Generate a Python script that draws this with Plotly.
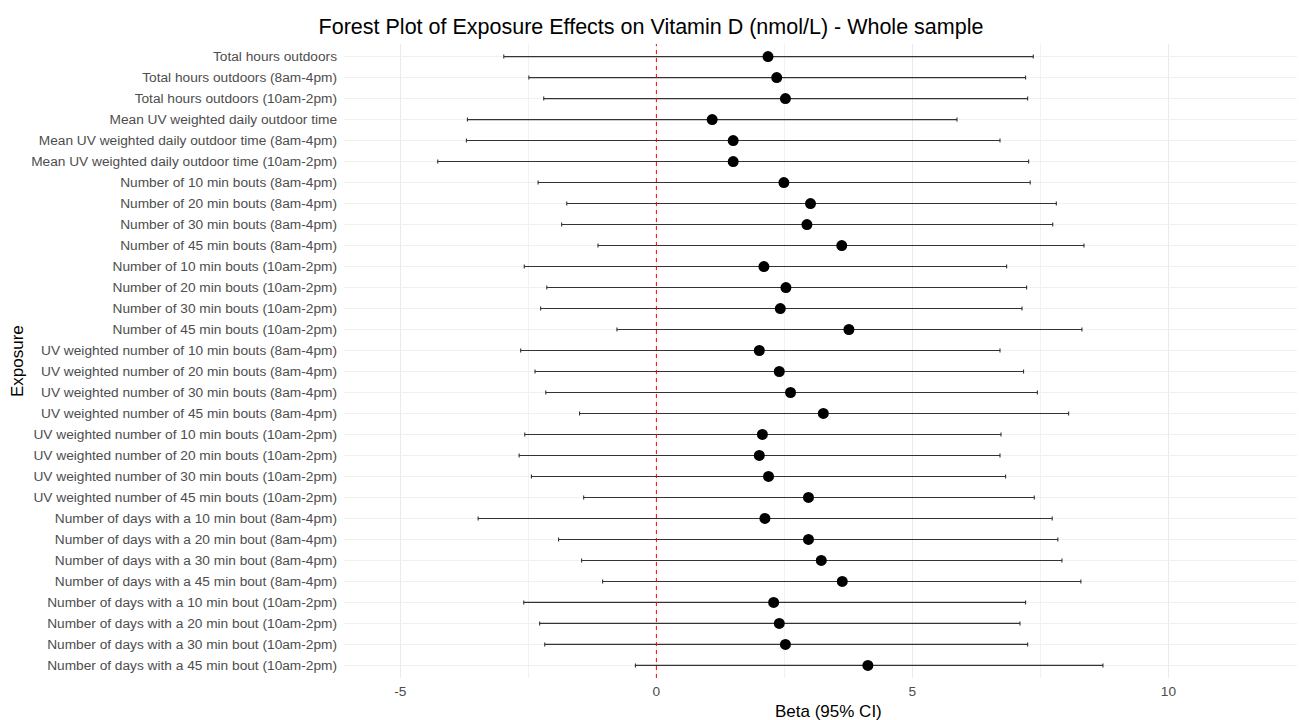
import plotly.graph_objects as go

exposures = [
    "Total hours outdoors",
    "Total hours outdoors (8am-4pm)",
    "Total hours outdoors (10am-2pm)",
    "Mean UV weighted daily outdoor time",
    "Mean UV weighted daily outdoor time (8am-4pm)",
    "Mean UV weighted daily outdoor time (10am-2pm)",
    "Number of 10 min bouts (8am-4pm)",
    "Number of 20 min bouts (8am-4pm)",
    "Number of 30 min bouts (8am-4pm)",
    "Number of 45 min bouts (8am-4pm)",
    "Number of 10 min bouts (10am-2pm)",
    "Number of 20 min bouts (10am-2pm)",
    "Number of 30 min bouts (10am-2pm)",
    "Number of 45 min bouts (10am-2pm)",
    "UV weighted number of 10 min bouts (8am-4pm)",
    "UV weighted number of 20 min bouts (8am-4pm)",
    "UV weighted number of 30 min bouts (8am-4pm)",
    "UV weighted number of 45 min bouts (8am-4pm)",
    "UV weighted number of 10 min bouts (10am-2pm)",
    "UV weighted number of 20 min bouts (10am-2pm)",
    "UV weighted number of 30 min bouts (10am-2pm)",
    "UV weighted number of 45 min bouts (10am-2pm)",
    "Number of days with a 10 min bout (8am-4pm)",
    "Number of days with a 20 min bout (8am-4pm)",
    "Number of days with a 30 min bout (8am-4pm)",
    "Number of days with a 45 min bout (8am-4pm)",
    "Number of days with a 10 min bout (10am-2pm)",
    "Number of days with a 20 min bout (10am-2pm)",
    "Number of days with a 30 min bout (10am-2pm)",
    "Number of days with a 45 min bout (10am-2pm)",
]

beta = [2.18, 2.35, 2.52, 1.09, 1.50, 1.50, 2.49, 3.01, 2.94, 3.62,
        2.10, 2.53, 2.42, 3.76, 2.01, 2.40, 2.62, 3.26, 2.07, 2.01,
        2.19, 2.97, 2.12, 2.97, 3.22, 3.63, 2.29, 2.40, 2.52, 4.13]

lower = [-2.98, -2.49, -2.20, -3.69, -3.71, -4.27, -2.31, -1.75, -1.85, -1.14,
         -2.58, -2.14, -2.26, -0.77, -2.65, -2.37, -2.16, -1.50, -2.57, -2.68,
         -2.44, -1.42, -3.48, -1.91, -1.46, -1.05, -2.59, -2.28, -2.18, -0.41]

upper = [7.36, 7.21, 7.25, 5.87, 6.71, 7.27, 7.30, 7.81, 7.74, 8.35,
         6.84, 7.23, 7.14, 8.31, 6.71, 7.17, 7.44, 8.05, 6.73, 6.71,
         6.82, 7.38, 7.73, 7.84, 7.92, 8.29, 7.21, 7.10, 7.25, 8.72]

x_ticks = [-5, 0, 5, 10]
x_tick_labels = ["-5", "0", "5", "10"]

err_plus = [u - b for u, b in zip(upper, beta)]
err_minus = [b - l for b, l in zip(beta, lower)]

fig = go.Figure()
fig.add_trace(go.Scatter(
    x=beta, y=exposures, mode="markers",
    marker=dict(color="black", size=11),
    error_x=dict(type="data", symmetric=False, array=err_plus, arrayminus=err_minus,
                 color="#333333", thickness=1.1, width=2),
    showlegend=False, hoverinfo="x+y",
))

fig.add_vline(x=0, line=dict(color="red", dash="4px,4px", width=1))

font_family = "Liberation Sans"
fig.update_layout(
    width=1299, height=720,
    margin=dict(l=344, r=2, t=44, b=42, autoexpand=False),
    plot_bgcolor="white", paper_bgcolor="white",
    font=dict(family=font_family),
    title=dict(text="Forest Plot of Exposure Effects on Vitamin D (nmol/L) - Whole sample",
               x=651 / 1299, xanchor="center", xref="container", y=1 - 26 / 720, yanchor="middle",
               font=dict(size=21.5, color="black", family=font_family)),
    xaxis=dict(range=[-6.10, 12.51], tickvals=x_ticks, ticktext=x_tick_labels, showgrid=True,
               gridcolor="#EBEBEB", gridwidth=1, zeroline=False, showline=False, automargin=False,
               tickfont=dict(size=13.7, color="#4D4D4D", family=font_family), ticks="", ticklabelstandoff=3,
               minor=dict(dtick=2.5, tick0=-2.5, showgrid=True, gridcolor="#F2F2F2", gridwidth=1)),
    yaxis=dict(categoryorder="array", categoryarray=exposures, type="category",
               range=[len(exposures) - 0.4, -0.6], showgrid=True, gridcolor="#F0F0F0",
               gridwidth=1, zeroline=False, showline=False, automargin=False,
               tickfont=dict(size=13.7, color="#4D4D4D", family=font_family), ticks="", ticklabelstandoff=6),
    annotations=[
        dict(text="Beta (95% CI)", xref="paper", yref="paper", x=0.5, y=0,
             xshift=8, yshift=-33.5, xanchor="center", yanchor="middle", showarrow=False,
             font=dict(size=17, color="black", family=font_family)),
        dict(text="Exposure", xref="paper", yref="paper", x=0, xshift=-327, y=0.5,
             xanchor="center", yanchor="middle", textangle=-90, showarrow=False,
             font=dict(size=17, color="black", family=font_family)),
    ],
)

fig.write_html("out.html", config={"displayModeBar": False},
               post_script="document.body.style.margin='0';")
